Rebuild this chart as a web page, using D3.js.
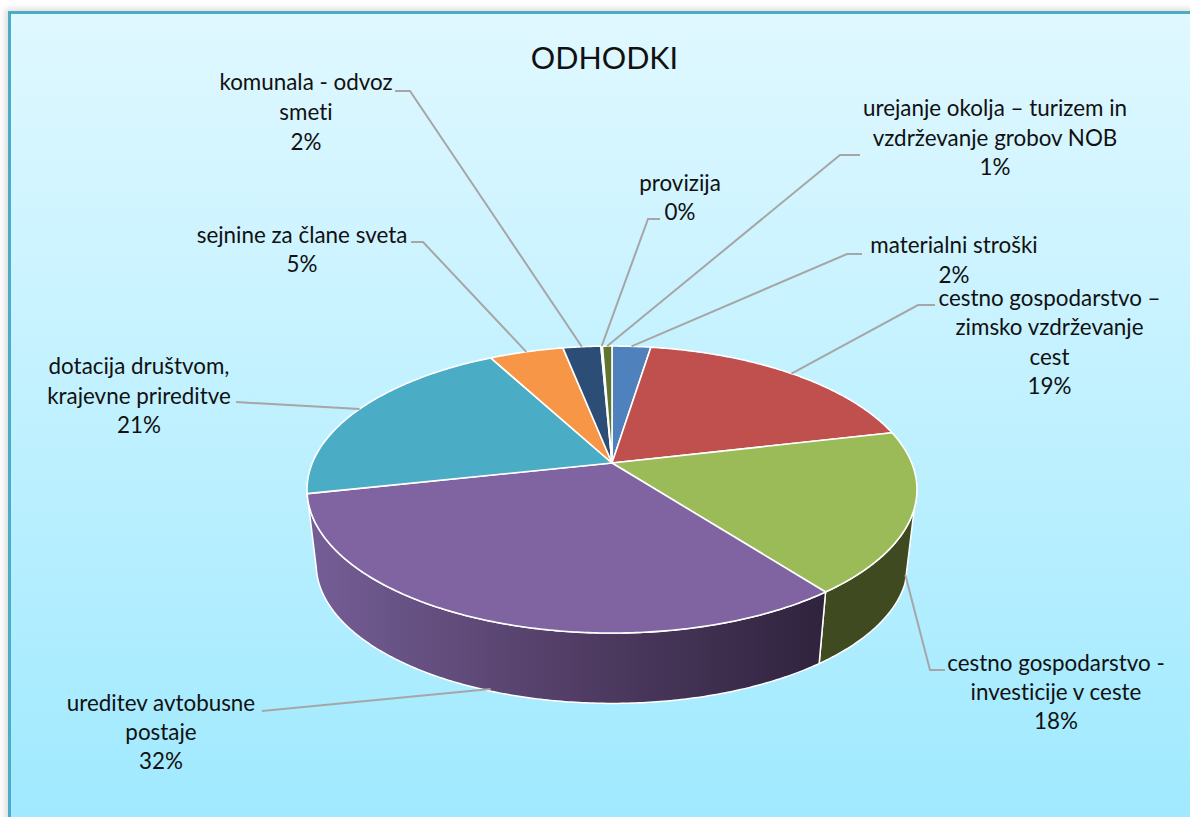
<!DOCTYPE html>
<html><head><meta charset="utf-8">
<script src="https://cdn.jsdelivr.net/npm/d3@7"></script>
<style>html,body{margin:0;padding:0;background:#fff;overflow:hidden}svg{display:block}
text{font-family:Lato,"Noto Sans",sans-serif;fill:#111;font-variant-ligatures:none}</style></head>
<body><svg id="c" width="1190" height="817"></svg>
<script>
const title = "ODHODKI";
const categories = ["materialni stroški","cestno gospodarstvo – zimsko vzdrževanje cest","cestno gospodarstvo - investicije v ceste","ureditev avtobusne postaje","dotacija društvom, krajevne prireditve","sejnine za člane sveta","komunala - odvoz smeti","provizija","urejanje okolja – turizem in vzdrževanje grobov NOB"];
const values = [2.45,18.9,18.25,32,20.6,4.7,2.4,0.1,0.6];
const colors = ["#4f81bd","#c0504d","#9bbb59","#8064a2","#4bacc6","#f79646","#2c4d75","#772c2a","#5f7530"];

// label layout, one entry per category
const labelLines = [["materialni stroški"],["cestno gospodarstvo –","zimsko vzdrževanje","cest"],["cestno gospodarstvo -","investicije v ceste"],["ureditev avtobusne","postaje"],["dotacija društvom,","krajevne prireditve"],["sejnine za člane sveta"],["komunala - odvoz","smeti"],["provizija"],["urejanje okolja – turizem in","vzdrževanje grobov NOB"]];
const labelCx = [954,1049.5,1056,161,139,302,306,680,995];
const labelTop = [253,306,671,711,374,243,90,191,116];
const lineGap = [30,29.3,29,29,29.5,29,30,29,29.5];
const leaderStart = [[862,254,847,254],[935,305,918,305],[945,670,930,670],[262,711,262,711],[236,402,236,402],[411,242,423,242],[395,91,410,91],[660,219,648,219],[860,155,840,155]];
const wallAnchor = [0,0,0.84,0.97,0,0,0,0,0];

const svg = d3.select("#c"), W=1190, H=817;
const defs = svg.append("defs");
const bg = defs.append("linearGradient").attr("id","bg").attr("x1",0).attr("y1",0).attr("x2",0).attr("y2",1);
bg.append("stop").attr("offset",0).attr("stop-color","#e0f8ff");
bg.append("stop").attr("offset",1).attr("stop-color","#9ee9ff");
const wg = defs.append("linearGradient").attr("id","wall").attr("gradientUnits","userSpaceOnUse").attr("x1",310).attr("y1",0).attr("x2",825).attr("y2",0);
wg.append("stop").attr("offset",0).attr("stop-color","#745e96");
wg.append("stop").attr("offset",0.5).attr("stop-color","#523e66");
wg.append("stop").attr("offset",1).attr("stop-color","#2f233d");
const blur = defs.append("filter").attr("id","sh").attr("x","-5%").attr("y","-5%").attr("width","110%").attr("height","110%");
blur.append("feGaussianBlur").attr("stdDeviation",3);

svg.append("rect").attr("x",5).attr("y",9).attr("width",1230).attr("height",840).attr("fill","#999").attr("opacity",.35).attr("filter","url(#sh)");
svg.append("rect").attr("x",9.5).attr("y",12.5).attr("width",1200).attr("height",830).attr("fill","url(#bg)").attr("stroke","#4bacc6").attr("stroke-width",3);

svg.append("text").attr("x",604.5).attr("y",69).attr("text-anchor","middle").attr("font-size",30.5).text(title);

// perspective projection of the pie disc
const K = 0.185;
const sx = d3.scaleLinear().domain([-1,1]).range([612-299.7,612+299.7]);
const syTop = d3.scaleLinear().domain([-1,1]).range([463+138.6,463-138.6]);
const sxLow = d3.scaleLinear().domain([-1,1]).range([612-290.7,612+290.7]);
const syLow = d3.scaleLinear().domain([-1,1]).range([538.5+134.4,538.5-134.4]);
const proj = (a,r,xs,ys)=>{const w=1+K*r*Math.cos(a);return [xs(r*Math.sin(a)/w),ys(r*Math.cos(a)/w)];};
const topP = (a,r=1)=>proj(a,r,sx,syTop), lowP=(a,r=1)=>proj(a,r,sxLow,syLow);
const line = d3.line();
const arcs = d3.pie().sort(null).value(d=>d)(values);
const steps = (a,b)=>{const n=Math.max(2,Math.ceil((b-a)/0.01));return d3.range(n+1).map(i=>a+(b-a)*i/n);};

// walls
const wallStart = 108*Math.PI/180;
const wallOf = (a,b)=>steps(a,b).map(v=>topP(v)).concat(steps(a,b).reverse().map(v=>lowP(v)));
svg.append("path").attr("d",line(wallOf(wallStart,arcs[2].endAngle))+"Z").attr("fill","#3f4a20").attr("stroke","#fff").attr("stroke-width",1.5).attr("stroke-linejoin","round");
svg.append("path").attr("d",line(wallOf(arcs[3].startAngle,arcs[3].endAngle))+"Z").attr("fill","url(#wall)").attr("stroke","#fff").attr("stroke-width",1.5).attr("stroke-linejoin","round");

// top face
svg.selectAll("path.slice").data(arcs).join("path").attr("class","slice")
 .attr("d",d=>line([topP(0,0)].concat(steps(d.startAngle,d.endAngle).map(v=>topP(v))))+"Z")
 .attr("fill",(d,i)=>colors[i]).attr("stroke","#fff").attr("stroke-width",1.6).attr("stroke-linejoin","round");

// leaders and labels
arcs.forEach((d,i)=>{
  const mid=(d.startAngle+d.endAngle)/2, t=wallAnchor[i];
  const p=topP(mid), q=lowP(mid);
  const end=[p[0]+(q[0]-p[0])*t,p[1]+(q[1]-p[1])*t];
  const s=leaderStart[i];
  svg.append("path").attr("d",line([[s[0],s[1]],[s[2],s[3]],end])).attr("fill","none").attr("stroke","#a6a6a6").attr("stroke-width",2);
  const ls=labelLines[i].concat(d3.format(".0f")(d.data)+"%");
  ls.forEach((txt,j)=>svg.append("text").attr("x",labelCx[i]).attr("y",labelTop[i]+j*lineGap[i]).attr("text-anchor","middle").attr("font-size",22.4).text(txt));
});
</script></body></html>
